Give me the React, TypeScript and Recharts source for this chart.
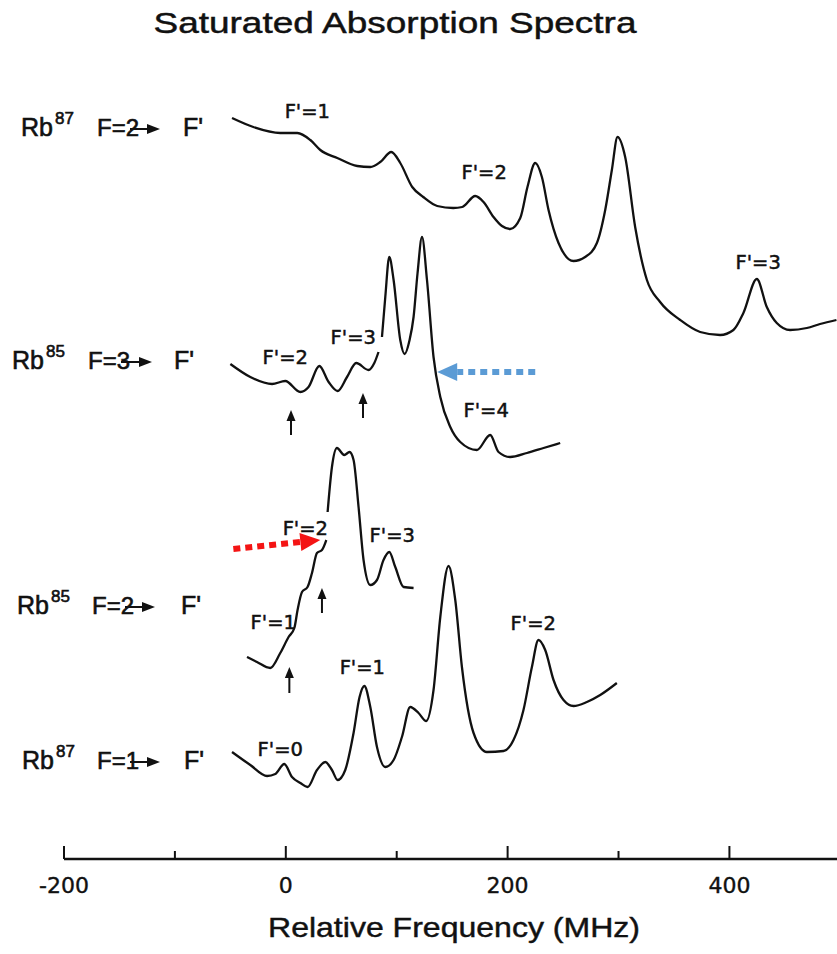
import React from "react";
import { LineChart, Line, XAxis, YAxis, ReferenceLine, ReferenceDot } from "recharts";

const FONT = "'DejaVu Sans', sans-serif";
const LABEL_FONT = "'Liberation Sans', Arial, sans-serif";
const INK = "#111";

// Rb87 F=2 -> F'  (top trace)
const rb87F2Freq = [
  -48.5, -29.3, -5.0, 10.4, 22.1, 31.1, 46.4, 64.4, 76.2, 85.2, 95.1, 103.2, 114.0, 123.9,
  136.5, 151.0, 159.1, 170.8, 178.3, 187.3, 194.9, 202.3, 211.4, 217.9, 224.9, 230.9, 236.9,
  245.9, 259.4, 269.9, 280.5, 288.0, 294.0, 299.1, 306.0, 315.0, 325.6, 337.5, 355.6, 373.6,
  391.6, 403.6, 412.6, 424.7, 433.7, 442.7, 454.7, 469.8, 481.7, 496.5,
];
const rb87F2Signal = [
  741, 732, 726, 726, 719, 709, 701, 693, 692, 697, 707, 696, 672, 662,
  653, 651, 652, 663, 657, 642, 633, 630, 641, 672, 696, 682, 649,
  616, 598, 602, 616, 649, 689, 722, 702, 632, 579, 557, 539, 527,
  524, 529, 546, 580, 552, 536, 529, 531, 535, 539,
];

// Rb85 F=3 -> F'
const rb85F3Freq = [
  -50.0, -32.0, -12.4, -0.5, 13.1, 20.5, 30.2, 38.6, 46.7, 55.2, 63.5, 74.6, 79.8, 83.6,
  85.1, 86.7, 89.7, 93.3, 97.2, 103.2, 107.1, 111.6, 115.2, 118.8, 122.8, 127.3, 133.2,
  139.3, 148.3, 157.3, 172.3, 184.3, 191.8, 202.3, 217.4, 232.4, 247.4,
];
const rb85F3Signal = [
  495, 482, 475, 478, 467, 472, 493, 477, 468, 482, 496, 489, 496, 507,
  null, 522, 562, 602, 579, 519, 505, 519, 542, 586, 622, 579, 502,
  462, 432, 417, 409, 424, 407, 402, 406, 411, 416,
];

// Rb85 F=2 -> F'
const rb85F2Freq = [
  -35.0, -26.0, -14.0, -5.0, 2.5, 7.7, 10.6, 14.6, 19.6, 23.6, 28.1, 32.6, 36.5,
  36.9, 37.7, 41.6, 46.1, 52.7, 57.5, 61.1, 65.6, 70.1, 76.2, 82.2, 88.1, 93.3, 98.7,
  106.2, 115.2,
];
const rb85F2Signal = [
  202, 197, 191, 206, 222, 231, 249, 267, 272, 286, 306, 309, 319,
  null, 347, 392, 411, 404, 407, 399, 352, 299, 274, 279, 299, 307, 292,
  272, 271,
];

// Rb87 F=1 -> F'  (bottom trace)
const rb87F1Freq = [
  -48.5, -32.0, -16.9, -9.5, -1.4, 5.6, 13.1, 19.6, 28.1, 35.6, 41.6, 46.7, 53.6, 61.1,
  66.5, 70.8, 76.2, 82.2, 89.7, 97.2, 104.7, 112.2, 119.7, 126.6, 133.2, 139.3, 146.7,
  152.8, 158.8, 169.3, 181.3, 196.3, 205.3, 214.3, 221.9, 227.8, 233.9, 241.4, 250.4,
  259.4, 271.5, 283.5, 298.5,
];
const rb87F1Signal = [
  107, 94, 83, 85, 95, 82, 76, 72, 89, 97, 89, 79, 89, 126,
  162, 173, 152, 112, 92, 99, 122, 152, 146, 138, 169, 242, 293,
  259, 192, 126, 107, 108, 119, 149, 192, 219, 209, 179, 159,
  153, 157, 164, 176,
];

const xTicks = [-200, -100, 0, 100, 200, 300, 400];

// hyperfine level labels placed at (frequency, signal)
const peakLabels = [
  { text: "F'=1", f: 19.4, v: 748 },
  { text: "F'=2", f: 178.9, v: 687 },
  { text: "F'=3", f: 425.9, v: 597 },
  { text: "F'=2", f: -0.5, v: 502 },
  { text: "F'=3", f: 60.8, v: 522 },
  { text: "F'=4", f: 180.7, v: 449 },
  { text: "F'=2", f: 17.6, v: 331 },
  { text: "F'=3", f: 96.0, v: 324 },
  { text: "F'=1", f: -11.3, v: 237 },
  { text: "F'=0", f: -5.0, v: 110 },
  { text: "F'=1", f: 69.0, v: 192 },
  { text: "F'=2", f: 223.1, v: 236 },
];

// small black arrows under the weak resonances
const markerArrows = [
  { f: 4.7, from: 424, to: 449 },
  { f: 69.6, from: 441, to: 466 },
  { f: 32.6, from: 246, to: 271 },
  { f: 3.2, from: 166, to: 192 },
];

const pointerArrows = [
  { f1: 224.9, v1: 487, f2: 136.5, v2: 487, color: "#5b9bd5" },
  { f1: -47.3, v1: 310, f2: 31.1, v2: 319, color: "#f41414" },
];

const rowLabels = [
  { iso: "87", tr: "F=2", rb: 21, sup: 55, f: 97, tip: 160, fp: 183, y: 136 },
  { iso: "85", tr: "F=3", rb: 12, sup: 46, f: 88, tip: 152, fp: 174, y: 369 },
  { iso: "85", tr: "F=2", rb: 17, sup: 51, f: 92, tip: 155, fp: 181, y: 614 },
  { iso: "87", tr: "F=1", rb: 22, sup: 56, f: 97, tip: 160, fp: 184, y: 769 },
];

const toPoints = (freq: number[], signal: (number | null)[]) =>
  freq.map((f, i) => ({ f, v: signal[i] }));

const traces = [
  toPoints(rb87F2Freq, rb87F2Signal),
  toPoints(rb85F3Freq, rb85F3Signal),
  toPoints(rb85F2Freq, rb85F2Signal),
  toPoints(rb87F1Freq, rb87F1Signal),
];

const FreqTick = (props: any) => {
  const { x, y, payload } = props;
  const major = payload.value % 200 === 0;
  return (
    <g>
      <line x1={x} x2={x} y1={y} y2={y - (major ? 13 : 8)} stroke={INK} strokeWidth={2} />
      {major && (
        <text
          x={x}
          y={y + 34}
          textAnchor="middle"
          fontFamily={FONT}
          fontSize={22}
          fill={INK}
          stroke={INK}
          strokeWidth={0.4}
        >
          {payload.value}
        </text>
      )}
    </g>
  );
};

const arrowShape =
  (color: string, width: number, dash: string | undefined, headLen: number, headHalf: number) =>
  (p: any) => {
    const { x1, y1, x2, y2 } = p;
    const dx = x2 - x1;
    const dy = y2 - y1;
    const len = Math.hypot(dx, dy) || 1;
    const ux = dx / len;
    const uy = dy / len;
    const bx = x2 - ux * headLen;
    const by = y2 - uy * headLen;
    const nx = -uy * headHalf;
    const ny = ux * headHalf;
    return (
      <g>
        <line x1={x1} y1={y1} x2={bx} y2={by} stroke={color} strokeWidth={width} strokeDasharray={dash} />
        <polygon points={`${x2},${y2} ${bx + nx},${by + ny} ${bx - nx},${by - ny}`} fill={color} />
      </g>
    );
  };

export default function App() {
  return (
    <div style={{ position: "absolute", left: 0, top: 0, width: 837, height: 954, background: "#fff" }}>
      <LineChart width={837} height={954} margin={{ top: 0, right: 0, bottom: 55, left: 64 }}>
        <XAxis
          dataKey="f"
          type="number"
          domain={[-200, 497]}
          allowDataOverflow
          ticks={xTicks}
          tickLine={false}
          tickSize={0}
          tickMargin={0}
          height={40}
          axisLine={{ stroke: INK, strokeWidth: 2.5 }}
          tick={<FreqTick />}
          interval={0}
        />
        <YAxis hide type="number" domain={[0, 859]} allowDataOverflow />
        {traces.map((d, i) => (
          <Line
            key={i}
            data={d}
            dataKey="v"
            type="monotone"
            stroke={INK}
            strokeWidth={2.3}
            dot={false}
            connectNulls={false}
            isAnimationActive={false}
          />
        ))}
        {peakLabels.map((a, i) => (
          <ReferenceDot
            key={"l" + i}
            x={a.f}
            y={a.v}
            r={0}
            shape={(p: any) => (
              <text
                x={p.cx}
                y={p.cy}
                dy={7}
                textAnchor="middle"
                fontFamily={FONT}
                fontSize={19.5}
                fill={INK}
                stroke={INK}
                strokeWidth={0.5}
              >
                {a.text}
              </text>
            )}
          />
        ))}
        {markerArrows.map((m, i) => (
          <ReferenceLine
            key={"m" + i}
            segment={[
              { x: m.f, y: m.from },
              { x: m.f, y: m.to },
            ]}
            shape={arrowShape(INK, 2, undefined, 11, 4.5)}
          />
        ))}
        {pointerArrows.map((a, i) => (
          <ReferenceLine
            key={"p" + i}
            segment={[
              { x: a.f1, y: a.v1 },
              { x: a.f2, y: a.v2 },
            ]}
            shape={arrowShape(a.color, 6, "7 5", 20, 9)}
          />
        ))}
      </LineChart>
      <svg
        width={837}
        height={954}
        style={{ position: "absolute", left: 0, top: 0, pointerEvents: "none" }}
      >
        <text
          x={395}
          y={33}
          textAnchor="middle"
          fontFamily={LABEL_FONT}
          fontSize={29}
          textLength={483}
          lengthAdjust="spacingAndGlyphs"
          fill={INK}
          stroke={INK}
          strokeWidth={0.45}
        >
          Saturated Absorption Spectra
        </text>
        <text
          x={454}
          y={937}
          textAnchor="middle"
          fontFamily={LABEL_FONT}
          fontSize={28}
          textLength={372}
          lengthAdjust="spacingAndGlyphs"
          fill={INK}
          stroke={INK}
          strokeWidth={0.45}
        >
          Relative Frequency (MHz)
        </text>
        {rowLabels.map((r, i) => (
          <g key={i} fontFamily={LABEL_FONT} fill={INK} stroke={INK} strokeWidth={0.6}>
            <text x={r.rb} y={r.y} fontSize={25}>Rb</text>
            <text x={r.sup} y={r.y - 12} fontSize={17}>{r.iso}</text>
            <text x={r.f} y={r.y} fontSize={24}>{r.tr}</text>
            <line x1={r.f + 33} y1={r.y - 7} x2={r.tip - 10} y2={r.y - 7} strokeWidth={2} />
            <polygon
              points={`${r.tip},${r.y - 7} ${r.tip - 13},${r.y - 12} ${r.tip - 13},${r.y - 2}`}
              strokeWidth={0}
            />
            <text x={r.fp} y={r.y} fontSize={25}>F'</text>
          </g>
        ))}
      </svg>
    </div>
  );
}
